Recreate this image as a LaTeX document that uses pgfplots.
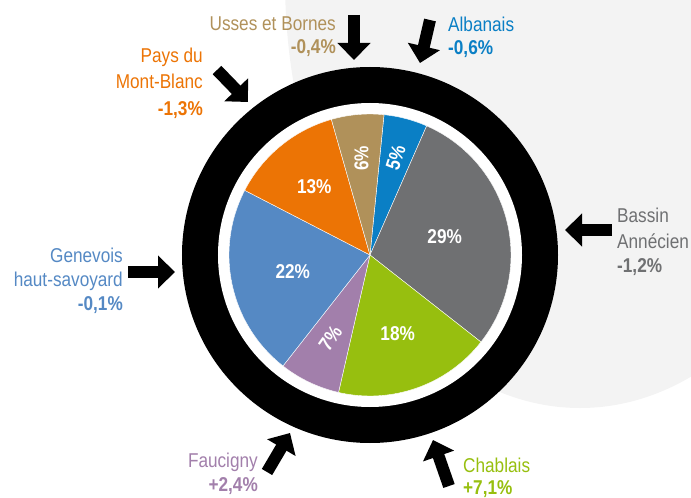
\documentclass[border=0pt]{standalone}
\usepackage{pgfplots}
\pgfplotsset{compat=1.18}
\usepackage{pgfplotstable}
\usepackage{fontspec}
\setmainfont{Liberation Sans}[FakeStretch=0.86]
\usetikzlibrary{arrows.meta}

\definecolor{cAlb}{HTML}{0A7FC5}
\definecolor{cBas}{HTML}{6F7072}
\definecolor{cCha}{HTML}{97BF0F}
\definecolor{cFau}{HTML}{A27FAB}
\definecolor{cGen}{HTML}{5589C4}
\definecolor{cMon}{HTML}{EC7405}
\definecolor{cUss}{HTML}{B0915A}
\definecolor{cBg}{HTML}{F3F3F3}

\newcommand\lblfont{\fontsize{20bp}{24bp}\selectfont}
\newcommand\pctfont{\fontsize{20bp}{24bp}\selectfont\bfseries}

% name, share (%), colour, label radius, label rotation
\pgfplotstableread{
name value col lr rot
Albanais 5 cAlb 101 72
Bassin 29 cBas 77 0
Chablais 18 cCha 83 0
Faucigny 7 cFau 92 55
Genevois 22 cGen 79 0
MontBlanc 13 cMon 88 0
Usses 6 cUss 97 90
}\piedata

\begin{document}
\begin{tikzpicture}
\xdef\curang{84.3}
\gdef\pieslices{}
\gdef\pielabels{}
\foreach \i in {0,...,6}{%
  \pgfplotstablegetelem{\i}{value}\of\piedata \let\v\pgfplotsretval
  \pgfplotstablegetelem{\i}{col}\of\piedata \let\c\pgfplotsretval
  \pgfplotstablegetelem{\i}{lr}\of\piedata \let\lr\pgfplotsretval
  \pgfplotstablegetelem{\i}{rot}\of\piedata \let\rt\pgfplotsretval
  \pgfmathsetmacro\a{\curang}%
  \pgfmathsetmacro\b{\curang-3.6*\v}%
  \pgfmathsetmacro\m{(\a+\b)/2}%
  \xdef\pieslices{\unexpanded\expandafter{\pieslices}\noexpand\fill[fill=\c, draw=white, line width=0.4bp] (axis cs:370,243) -- ++(\a:141bp) arc[start angle=\a, end angle=\b, radius=141bp] -- cycle;}%
  \xdef\pielabels{\unexpanded\expandafter{\pielabels}\noexpand\path (axis cs:370,243) ++(\m:\lr bp) node[text=white, font=\noexpand\pctfont, rotate=\rt, inner sep=0pt] {\v\noexpand\%};}%
  \xdef\curang{\b}%
}
\begin{axis}[hide axis, scale only axis, x=1bp, y=1bp,
  xmin=0, xmax=691, ymin=0, ymax=498, clip=true]
  % background
  \fill[cBg] (axis cs:580,518) ellipse[x radius=295bp, y radius=428bp];
  % arrows
  \begin{scope}[line width=12bp, -{Triangle[width=32bp,length=17bp]}]
    \draw (axis cs:354,483) -- (axis cs:354,438);
    \draw (axis cs:430,478) -- (axis cs:420,435);
    \draw (axis cs:217,428) -- (axis cs:248,396);
    \draw (axis cs:612,268) -- (axis cs:565,268);
    \draw (axis cs:128,226) -- (axis cs:175,226);
    \draw (axis cs:267,26) -- (axis cs:290,65);
    \draw (axis cs:449,12) -- (axis cs:433,58);
  \end{scope}
  % ring
  \fill[black] (axis cs:370,243) circle[radius=188bp];
  \fill[white] (axis cs:370,243) circle[radius=152bp];
  \pieslices
  \pielabels
  % outer labels
  \begin{scope}[every node/.style={inner sep=0pt}]
    \node[anchor=base east, text=cUss, font=\lblfont] at (axis cs:336,467) {Usses et Bornes};
    \node[anchor=base east, text=cUss, font=\pctfont] at (axis cs:336,444) {-0,4\%};
    \node[anchor=base east, text=cMon, font=\lblfont] at (axis cs:203,435) {Pays du};
    \node[anchor=base east, text=cMon, font=\lblfont] at (axis cs:203,409) {Mont-Blanc};
    \node[anchor=base east, text=cMon, font=\pctfont] at (axis cs:203,383) {-1,3\%};
    \node[anchor=base west, text=cAlb, font=\lblfont] at (axis cs:448,466) {Albanais};
    \node[anchor=base west, text=cAlb, font=\pctfont] at (axis cs:448,443) {-0,6\%};
    \node[anchor=base west, text=cBas, font=\lblfont] at (axis cs:617,276) {Bassin};
    \node[anchor=base west, text=cBas, font=\lblfont] at (axis cs:617,250) {Annécien};
    \node[anchor=base west, text=cBas, font=\pctfont] at (axis cs:617,226) {-1,2\%};
    \node[anchor=base east, text=cGen, font=\lblfont] at (axis cs:123,236) {Genevois};
    \node[anchor=base east, text=cGen, font=\lblfont] at (axis cs:123,212) {haut-savoyard};
    \node[anchor=base east, text=cGen, font=\pctfont] at (axis cs:123,188) {-0,1\%};
    \node[anchor=base east, text=cFau, font=\lblfont] at (axis cs:258,31) {Faucigny};
    \node[anchor=base east, text=cFau, font=\pctfont] at (axis cs:258,7) {+2,4\%};
    \node[anchor=base west, text=cCha, font=\lblfont] at (axis cs:463,26) {Chablais};
    \node[anchor=base west, text=cCha, font=\pctfont] at (axis cs:463,4) {+7,1\%};
  \end{scope}
\end{axis}
\pgfresetboundingbox
\useasboundingbox (0,0) rectangle (691bp,498bp);
\end{tikzpicture}
\end{document}
